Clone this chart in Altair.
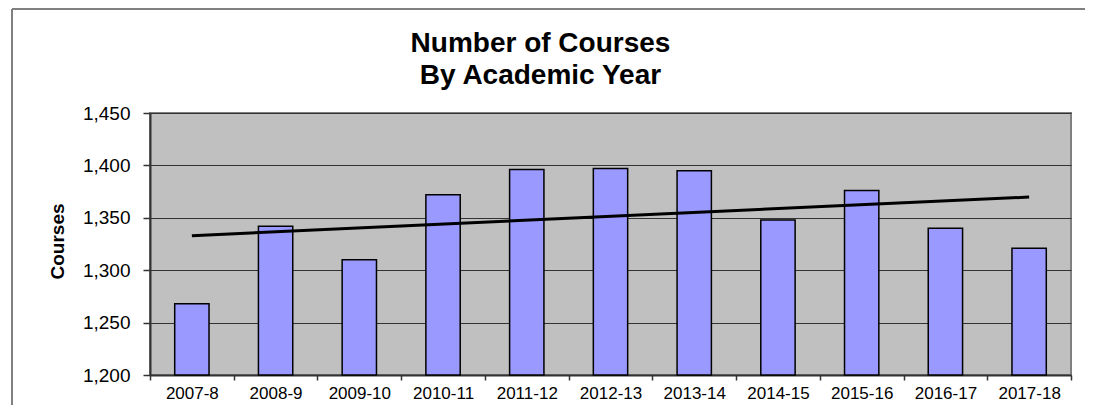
import json
import altair as alt
import pandas as pd

years = ["2007-8", "2008-9", "2009-10", "2010-11", "2011-12", "2012-13",
         "2013-14", "2014-15", "2015-16", "2016-17", "2017-18"]
courses = [1268, 1342, 1310, 1372, 1396, 1397, 1395, 1348, 1376, 1340, 1321]
y_ticks = [1200, 1250, 1300, 1350, 1400, 1450]

df = pd.DataFrame({"year": years, "courses": courses, "idx": list(range(len(years)))})

FONT = "Liberation Sans"

x_enc = alt.X(
    "year:N", sort=years, title=None,
    scale=alt.Scale(paddingInner=0, paddingOuter=0),
    axis=alt.Axis(labelAngle=0, labelFontSize=17, labelColor="black",
                  labelPadding=5, tickSize=5, tickBand="extent",
                  tickColor="#333333", tickWidth=1.5,
                  domainColor="#333333", domainWidth=2, grid=False),
)
y_scale = alt.Scale(domain=[1200, 1450], nice=False)
y_enc = alt.Y(
    "courses:Q", scale=y_scale, title="Courses",
    axis=alt.Axis(values=y_ticks, format=",d", labelFontSize=19, labelColor="black",
                  tickSize=7, labelPadding=13, tickColor="#333333", tickWidth=1.5,
                  domainColor="#333333", domainWidth=2,
                  grid=True, gridColor="#333333", gridWidth=1,
                  titleFontSize=19, titleFontWeight="bold", titleColor="black",
                  titleAngle=270, titleX=-87, titleY=128,
                  titleAlign="center", titleBaseline="alphabetic"),
)

base = alt.Chart(df)

bars = base.mark_bar(
    color="#9999FF", stroke="black", strokeWidth=1.5,
    width=alt.RelativeBandSize(0.41),
).encode(x=x_enc, y=y_enc, y2=alt.datum(1200))

trend = base.transform_regression("idx", "courses").transform_calculate(
    year=f"{json.dumps(years)}[datum.idx]"
).mark_line(color="black", strokeWidth=3).encode(
    x=alt.X("year:N", sort=years),
    y=alt.Y("courses:Q", scale=y_scale),
)

# outer chart frame (only top and left edges fall inside the picture)
frame_src = alt.Chart(pd.DataFrame({"f": [0]}))
frame_top = frame_src.mark_rule(color="#808080", strokeWidth=2).encode(
    x=alt.value(-138), x2=alt.value(935), y=alt.value(-104))
frame_left = frame_src.mark_rule(color="#808080", strokeWidth=2).encode(
    x=alt.value(-138), y=alt.value(-104), y2=alt.value(330))

chart = alt.layer(frame_top, frame_left, bars, trend).properties(
    width=921, height=262,
    autosize=alt.AutoSizeParams(type="none"),
    padding={"left": 142, "top": 105, "right": 14, "bottom": 30},
    background="white",
    title=alt.Title(["Number of Courses", "By Academic Year"], fontSize=28,
                    fontWeight="bold", font=FONT, color="black",
                    anchor="middle", dx=-70, dy=96, offset=14, lineHeight=32),
).configure(font=FONT).configure_view(
    fill="#C0C0C0", stroke="#808080", strokeWidth=2
)

chart.save("out.html", embed_options={"renderer": "svg", "actions": False})
